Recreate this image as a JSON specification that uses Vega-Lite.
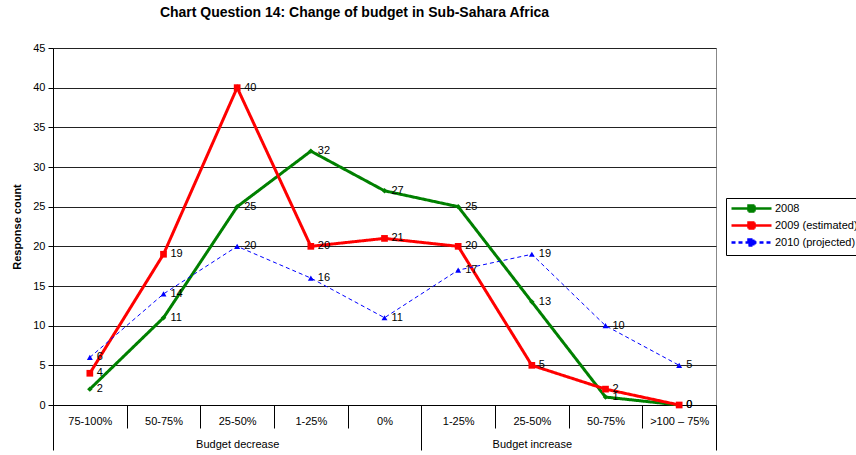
{
  "$schema": "https://vega.github.io/schema/vega-lite/v6.json",
  "width": 663,
  "height": 357,
  "autosize": {"type": "none"},
  "padding": {"left": 53, "top": 48, "right": 140, "bottom": 50},
  "background": "white",
  "config": {
    "font": "Liberation Sans",
    "view": {"stroke": "#888"},
    "axis": {"labelColor": "#000", "labelFontSize": 11, "labelFont": "Liberation Sans", "titleColor": "#000"}
  },
  "title": {
    "text": "Chart Question 14: Change of budget in Sub-Sahara Africa",
    "fontSize": 14,
    "fontWeight": "bold",
    "font": "Liberation Sans",
    "color": "#000",
    "anchor": "middle",
    "dx": -30,
    "offset": 22
  },
  "layer": [
    {
      "data": {
        "values": [
          {"pos": 1, "category": "75-100%", "series": "2008", "value": 2},
          {"pos": 2, "category": "50-75%", "series": "2008", "value": 11},
          {"pos": 3, "category": "25-50%", "series": "2008", "value": 25},
          {"pos": 4, "category": "1-25%", "series": "2008", "value": 32},
          {"pos": 5, "category": "0%", "series": "2008", "value": 27},
          {"pos": 6, "category": "1-25%", "series": "2008", "value": 25},
          {"pos": 7, "category": "25-50%", "series": "2008", "value": 13},
          {"pos": 8, "category": "50-75%", "series": "2008", "value": 1},
          {"pos": 9, "category": ">100 – 75%", "series": "2008", "value": 0},
          {"pos": 1, "category": "75-100%", "series": "2009 (estimated)", "value": 4},
          {"pos": 2, "category": "50-75%", "series": "2009 (estimated)", "value": 19},
          {"pos": 3, "category": "25-50%", "series": "2009 (estimated)", "value": 40},
          {"pos": 4, "category": "1-25%", "series": "2009 (estimated)", "value": 20},
          {"pos": 5, "category": "0%", "series": "2009 (estimated)", "value": 21},
          {"pos": 6, "category": "1-25%", "series": "2009 (estimated)", "value": 20},
          {"pos": 7, "category": "25-50%", "series": "2009 (estimated)", "value": 5},
          {"pos": 8, "category": "50-75%", "series": "2009 (estimated)", "value": 2},
          {"pos": 9, "category": ">100 – 75%", "series": "2009 (estimated)", "value": 0},
          {"pos": 1, "category": "75-100%", "series": "2010 (projected)", "value": 6},
          {"pos": 2, "category": "50-75%", "series": "2010 (projected)", "value": 14},
          {"pos": 3, "category": "25-50%", "series": "2010 (projected)", "value": 20},
          {"pos": 4, "category": "1-25%", "series": "2010 (projected)", "value": 16},
          {"pos": 5, "category": "0%", "series": "2010 (projected)", "value": 11},
          {"pos": 6, "category": "1-25%", "series": "2010 (projected)", "value": 17},
          {"pos": 7, "category": "25-50%", "series": "2010 (projected)", "value": 19},
          {"pos": 8, "category": "50-75%", "series": "2010 (projected)", "value": 10},
          {"pos": 9, "category": ">100 – 75%", "series": "2010 (projected)", "value": 5}
        ]
      },
      "encoding": {
        "x": {
          "field": "pos",
          "type": "ordinal",
          "scale": {"type": "band", "paddingInner": 0, "paddingOuter": 0},
          "axis": {
            "orient": "bottom",
            "title": null,
            "labelAngle": 0,
            "tickBand": "extent",
            "tickSize": 23,
            "tickColor": "#000",
            "domainColor": "#000",
            "labelPadding": -13,
            "grid": false,
            "labelExpr": "['75-100%','50-75%','25-50%','1-25%','0%','1-25%','25-50%','50-75%','>100 – 75%'][datum.value - 1]"
          }
        },
        "y": {
          "field": "value",
          "type": "quantitative",
          "scale": {"domain": [0, 45], "nice": false},
          "axis": {
            "title": "Response count",
            "titleFontSize": 11,
            "titleFontWeight": "bold",
            "titlePadding": 10,
            "values": [0, 5, 10, 15, 20, 25, 30, 35, 40, 45],
            "tickSize": 5,
            "tickColor": "#000",
            "domainColor": "#000",
            "labelPadding": 3,
            "grid": true,
            "gridColor": "#222",
            "gridOpacity": 1
          }
        }
      },
      "layer": [
        {
          "transform": [{"filter": "datum.series !== '2010 (projected)'"}],
          "mark": {"type": "line", "strokeWidth": 3},
          "encoding": {
            "x": {"field": "pos", "type": "ordinal", "bandPosition": 0.5},
            "color": {
              "field": "series",
              "type": "nominal",
              "scale": {"domain": ["2008", "2009 (estimated)", "2010 (projected)"], "range": ["#008000", "#FF0000", "#0000FF"]},
              "legend": {
                "orient": "none",
                "legendX": 673,
                "legendY": 150,
                "title": null,
                "strokeColor": "#000",
                "fillColor": "white",
                "padding": 4,
                "labelFont": "Liberation Sans",
                "labelFontSize": 11,
                "labelColor": "#000",
                "symbolType": "M-1,0H7M2.4,-0.6H3.6V0.6H2.4Z",
                "symbolSize": 100,
                "symbolStrokeWidth": 2.5,
                "labelOffset": 32,
                "rowPadding": 0
              }
            },
            "strokeDash": {
              "field": "series",
              "type": "nominal",
              "scale": {"domain": ["2008", "2009 (estimated)", "2010 (projected)"], "range": [[1, 0], [1, 0], [4, 3]]},
              "legend": {
                "orient": "none",
                "legendX": 673,
                "legendY": 150,
                "title": null
              }
            }
          }
        },
        {
          "transform": [{"filter": "datum.series === '2010 (projected)'"}],
          "mark": {"type": "line", "strokeWidth": 1},
          "encoding": {
            "x": {"field": "pos", "type": "ordinal", "bandPosition": 0.5},
            "color": {"field": "series", "type": "nominal", "legend": null},
            "strokeDash": {"field": "series", "type": "nominal", "legend": null}
          }
        },
        {
          "transform": [{"filter": "datum.series === '2008'"}],
          "mark": {"type": "point", "filled": true, "opacity": 1, "shape": "diamond", "size": 30},
          "encoding": {
            "x": {"field": "pos", "type": "ordinal", "bandPosition": 0.5},
            "color": {"field": "series", "type": "nominal", "legend": null}
          }
        },
        {
          "transform": [{"filter": "datum.series === '2009 (estimated)'"}],
          "mark": {"type": "point", "filled": true, "opacity": 1, "shape": "square", "size": 45},
          "encoding": {
            "x": {"field": "pos", "type": "ordinal", "bandPosition": 0.5},
            "color": {"field": "series", "type": "nominal", "legend": null}
          }
        },
        {
          "transform": [{"filter": "datum.series === '2010 (projected)'"}],
          "mark": {"type": "point", "filled": true, "opacity": 1, "shape": "triangle-up", "size": 35},
          "encoding": {
            "x": {"field": "pos", "type": "ordinal", "bandPosition": 0.5},
            "color": {"field": "series", "type": "nominal", "legend": null}
          }
        },
        {
          "mark": {"type": "text", "align": "left", "baseline": "middle", "dx": 7, "fontSize": 11, "color": "#000", "font": "Liberation Sans"},
          "encoding": {
            "x": {"field": "pos", "type": "ordinal", "bandPosition": 0.5},
            "text": {"field": "value", "type": "quantitative"}
          }
        }
      ]
    },
    {
      "data": {"values": [{"edge": 0}, {"edge": 9}]},
      "mark": {"type": "rule", "opacity": 0},
      "encoding": {
        "x": {
          "field": "edge",
          "type": "quantitative",
          "scale": {"domain": [0, 9], "nice": false, "zero": false},
          "axis": {
            "orient": "bottom",
            "title": null,
            "domain": false,
            "grid": false,
            "values": [0, 2.5, 5, 6.5, 9],
            "tickSize": 45,
            "tickColor": "#000",
            "tickOpacity": {"condition": {"test": "datum.value == 2.5 || datum.value == 6.5", "value": 0}, "value": 1},
            "labelPadding": -12,
            "labelFontSize": 11,
            "labelColor": "#000",
            "labelExpr": "datum.value == 2.5 ? 'Budget decrease' : datum.value == 6.5 ? 'Budget increase' : ''"
          }
        }
      }
    }
  ],
  "resolve": {"scale": {"x": "independent"}}
}
